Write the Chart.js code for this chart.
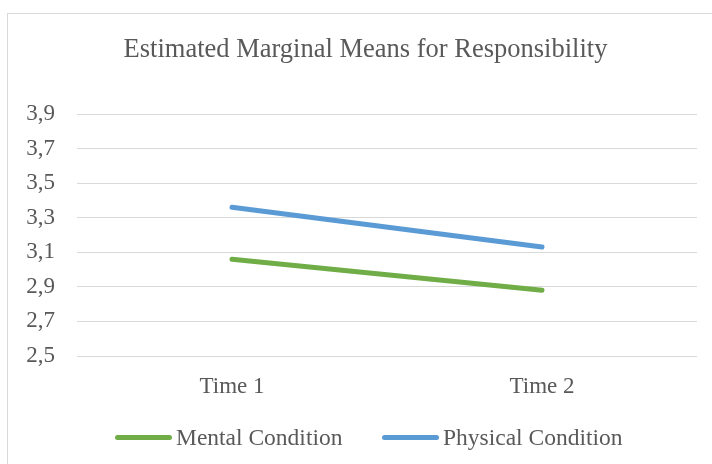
<!DOCTYPE html>
<html>
<head>
<meta charset="utf-8">
<script src="https://cdn.jsdelivr.net/npm/chart.js@4/dist/chart.umd.min.js"></script>
<style>
  html, body { margin: 0; padding: 0; background: #fff; }
  #wrap { position: relative; width: 712px; height: 464px; overflow: hidden; }
  #c { position: absolute; left: 0; top: 0; }
  #legend { position: absolute; top: 423px; left: 0; width: 712px; height: 28px;
            font-family: "Liberation Serif", "Times New Roman", serif; font-size: 23.5px; color: #595959; }
  .item { position: absolute; top: 0; display: flex; align-items: center; height: 28px; white-space: nowrap; }
  .swatch { display: inline-block; width: 57px; height: 5px; border-radius: 3px; margin-right: 4px; }
</style>
</head>
<body>
<div id="wrap">
  <canvas id="c" width="712" height="464"></canvas>
  <div id="legend"></div>
</div>
<script>
const categories = ['Time 1', 'Time 2'];
const seriesNames = ['Mental Condition', 'Physical Condition'];
const mentalValues = [3.06, 2.88];
const physicalValues = [3.36, 3.13];
const titleText = 'Estimated Marginal Means for Responsibility';

const GREEN = '#70AD47';
const BLUE = '#5B9BD5';
const TEXT = '#595959';
const FONT = '"Liberation Serif", "Times New Roman", serif';

// Thin frame around the chart object, plus the heading centred on that frame
const framePlugin = {
  id: 'frame',
  beforeDraw(chart) {
    const ctx = chart.ctx;
    ctx.save();
    ctx.fillStyle = '#ffffff';
    ctx.fillRect(0, 0, chart.width, chart.height);
    ctx.strokeStyle = '#d9d9d9';
    ctx.lineWidth = 1;
    ctx.strokeRect(7.5, 13.5, chart.width + 20, chart.height + 20);
    ctx.restore();
  },
  afterDraw(chart) {
    const ctx = chart.ctx;
    ctx.save();
    ctx.fillStyle = TEXT;
    ctx.font = '26.5px ' + FONT;
    ctx.textAlign = 'center';
    ctx.textBaseline = 'middle';
    ctx.fillText(titleText, 365.5, 50);
    ctx.restore();
  }
};

const chart = new Chart(document.getElementById('c'), {
  type: 'line',
  data: {
    labels: categories,
    datasets: [
      { label: seriesNames[0], data: mentalValues, borderColor: GREEN, backgroundColor: GREEN,
        borderWidth: 5, borderCapStyle: 'round', pointRadius: 0, pointHoverRadius: 0, tension: 0 },
      { label: seriesNames[1], data: physicalValues, borderColor: BLUE, backgroundColor: BLUE,
        borderWidth: 5, borderCapStyle: 'round', pointRadius: 0, pointHoverRadius: 0, tension: 0 }
    ]
  },
  options: {
    responsive: false,
    animation: false,
    layout: { padding: { left: 0, right: 15, top: 114, bottom: 0 } },
    plugins: {
      legend: { display: false },
      tooltip: { enabled: false },
      title: { display: false }
    },
    scales: {
      x: {
        offset: true,
        afterFit(scale) { scale.height = 108; },
        grid: { display: false, drawTicks: false },
        border: { display: false },
        ticks: { color: TEXT, font: { family: FONT, size: 23 }, padding: 17 }
      },
      y: {
        min: 2.5,
        max: 3.9,
        afterFit(scale) { scale.width = 77; },
        grid: { color: '#d9d9d9', lineWidth: 1, drawTicks: false },
        border: { display: false },
        ticks: {
          stepSize: 0.2,
          color: TEXT,
          font: { family: FONT, size: 23 },
          padding: 22,
          callback: v => v.toFixed(1).replace('.', ',')
        }
      }
    }
  },
  plugins: [framePlugin]
});

// Legend with long line swatches
const legendEl = document.getElementById('legend');
const legendLefts = [115, 382];
chart.data.datasets.forEach((ds, i) => {
  const item = document.createElement('div');
  item.className = 'item';
  item.style.left = legendLefts[i] + 'px';
  const sw = document.createElement('span');
  sw.className = 'swatch';
  sw.style.background = ds.borderColor;
  const tx = document.createElement('span');
  tx.textContent = ds.label;
  item.appendChild(sw);
  item.appendChild(tx);
  legendEl.appendChild(item);
});
</script>
</body>
</html>
